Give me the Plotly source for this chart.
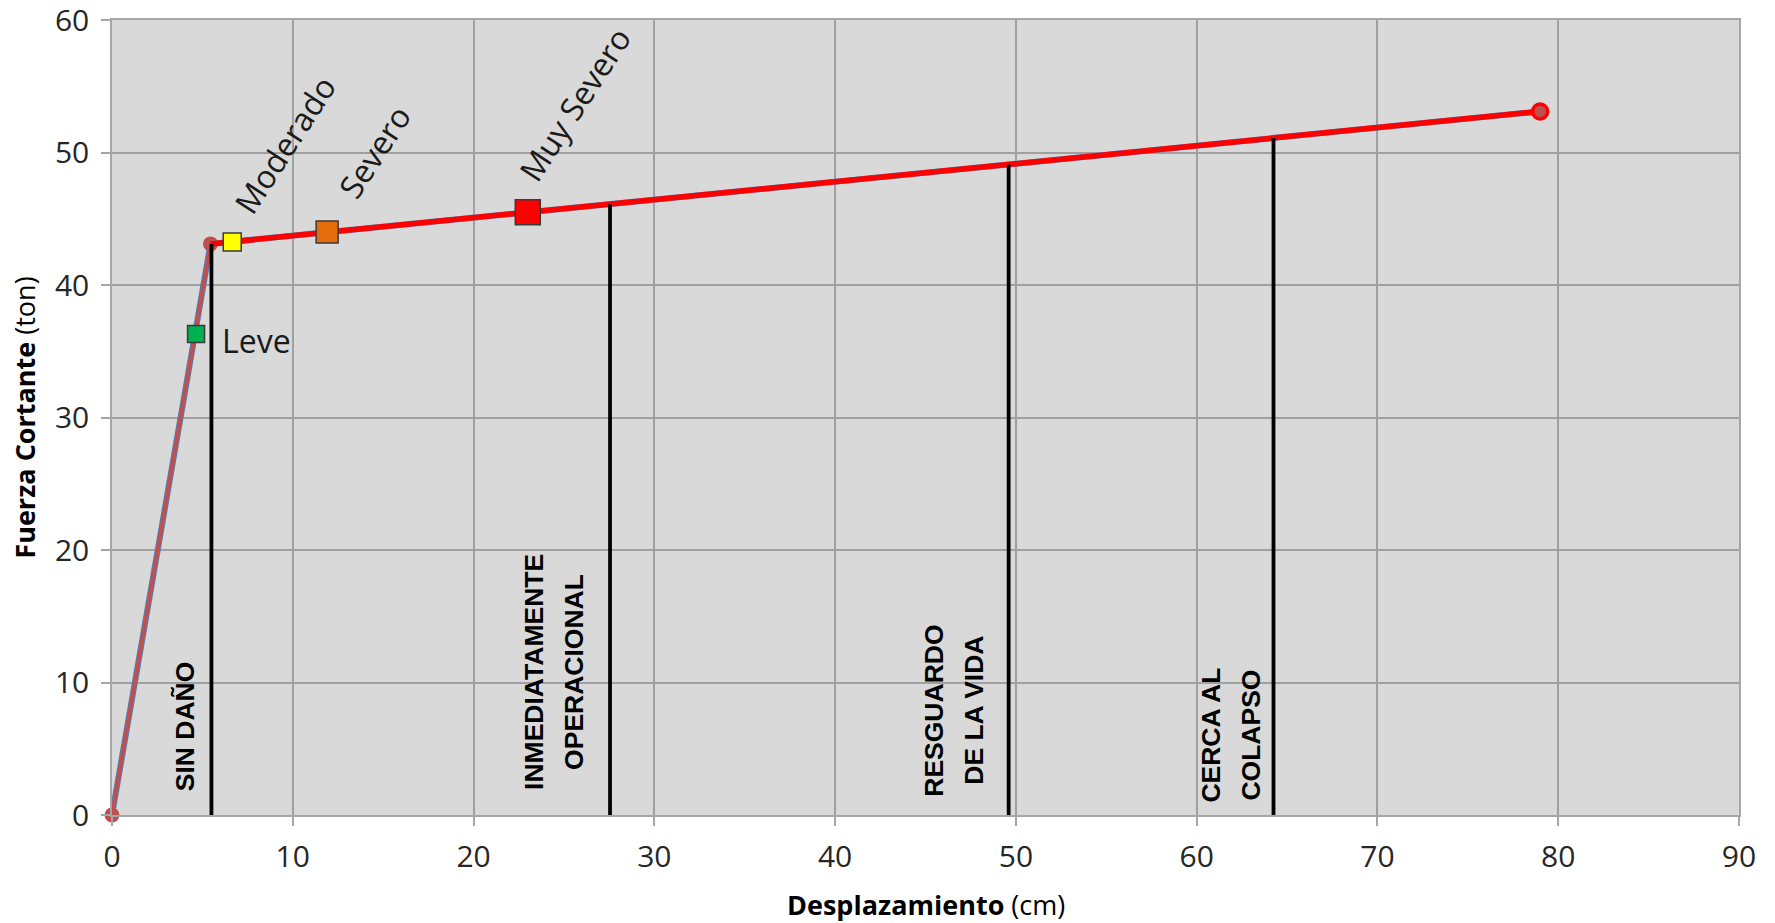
import plotly.graph_objects as go

# ---- data ----
curve_x = [0.0, 5.45, 79.0]          # bilinear capacity curve (cm)
curve_y = [0.0, 43.1, 53.1]          # (ton)
post_x = [5.45, 79.0]                # post-yield branch
post_y = [43.1, 53.1]

damage_names = ["Leve", "Moderado", "Severo", "Muy Severo"]
damage_x = [4.65, 6.65, 11.9, 23.0]
damage_y = [36.3, 43.25, 44.0, 45.5]
damage_colors = ["#00B050", "#FFFF00", "#E46C0A", "#FF0000"]

level_names = ["SIN DAÑO", "INMEDIATAMENTE<br>OPERACIONAL", "RESGUARDO<br>DE LA VIDA", "CERCA AL<br>COLAPSO"]
level_x = [5.5, 27.55, 49.6, 64.25]
level_top = [43.1, 46.1, 49.1, 51.1]

x_ticks = [0, 10, 20, 30, 40, 50, 60, 70, 80, 90]
y_ticks = [0, 10, 20, 30, 40, 50, 60]

# ---- styles / layout helpers ----
damage_sizes = [17, 18, 22, 25]
damage_label_pos = [(5.95, 35.8, "left", 0), (9.55, 50.6, "center", -57),
                    (14.5, 50.1, "center", -57), (25.6, 53.7, "center", -57)]
level_label_pos = [(4.04, 6.7), (24.45, 10.8), (46.6, 7.9), (61.85, 6.0)]

FONT = "Open Sans"
fig = go.Figure()

# thin blue pushover curve underneath
fig.add_trace(go.Scatter(x=curve_x, y=curve_y, mode="lines", cliponaxis=False,
                         line=dict(color="#4F81BD", width=6), hoverinfo="skip"))
# bilinear curve (brownish red) with circle markers
fig.add_trace(go.Scatter(x=curve_x, y=curve_y, mode="lines+markers", cliponaxis=False,
                         line=dict(color="#C0504D", width=4),
                         marker=dict(symbol="circle", size=15, color="#C0504D"),
                         hoverinfo="skip"))
# red post-yield branch
fig.add_trace(go.Scatter(x=post_x, y=post_y, mode="lines", cliponaxis=False,
                         line=dict(color="#FF0000", width=5.5), hoverinfo="skip"))
fig.add_trace(go.Scatter(x=post_x[-1:], y=post_y[-1:], mode="markers", cliponaxis=False,
                         marker=dict(symbol="circle", size=15, color="#C0504D",
                                     line=dict(color="#FF0000", width=3.5)),
                         hoverinfo="skip"))

# performance level vertical lines
for lx, lt in zip(level_x, level_top):
    fig.add_trace(go.Scatter(x=[lx, lx], y=[0, lt], mode="lines",
                             line=dict(color="#000000", width=3.8), hoverinfo="skip"))

# damage state markers
for i in range(len(damage_names)):
    fig.add_trace(go.Scatter(x=[damage_x[i]], y=[damage_y[i]], mode="markers",
                             marker=dict(symbol="square", size=damage_sizes[i],
                                         color=damage_colors[i],
                                         line=dict(color="#3A3A3A", width=1.5)),
                             hoverinfo="skip"))

annotations = []
for name, (ax, ay, anc, ang) in zip(damage_names, damage_label_pos):
    annotations.append(dict(x=ax, y=ay, xref="x", yref="y", text=name, showarrow=False,
                            textangle=ang, xanchor=anc, yanchor="middle",
                            font=dict(family=FONT, size=32, color="#1A1A1A")))
for name, (ax, ay) in zip(level_names, level_label_pos):
    lines = name.split("<br>")
    n = len(lines)
    for i, ln in enumerate(lines):
        annotations.append(dict(x=ax, y=ay, xref="x", yref="y", text="<b>" + ln + "</b>",
                                showarrow=False, textangle=-90, xanchor="center",
                                yanchor="middle", xshift=(i - (n - 1) / 2) * 40,
                                font=dict(family="Liberation Sans", size=26.5, color="#000000")))
annotations.append(dict(x=0.5, y=-0.113, xref="paper", yref="paper",
                        text="<b>Desplazamiento</b> (cm)", showarrow=False,
                        xanchor="center", yanchor="middle",
                        font=dict(family=FONT, size=27, color="#000000")))
annotations.append(dict(x=-0.054, y=0.5, xref="paper", yref="paper",
                        text="<b>Fuerza Cortante</b> (ton)", showarrow=False, textangle=-90,
                        xanchor="center", yanchor="middle",
                        font=dict(family=FONT, size=27, color="#000000")))

fig.update_layout(
    width=1775, height=923,
    margin=dict(l=112, r=36, t=20, b=108, autoexpand=False),
    paper_bgcolor="#FFFFFF", plot_bgcolor="#D9D9D9",
    showlegend=False,
    annotations=annotations,
    xaxis=dict(range=[0, 90], tickvals=x_ticks, ticktext=[str(v) for v in x_ticks],
               showgrid=True, gridcolor="#A0A0A0", gridwidth=1.5, automargin=False,
               zeroline=False, showline=True, linecolor="#A6A6A6", linewidth=1.5, mirror=True,
               ticks="outside", ticklen=9, tickcolor="#A6A6A6", tickwidth=1.5,
               ticklabelstandoff=5, ticklabeloverflow="allow",
               tickfont=dict(family=FONT, size=30, color="#262626")),
    yaxis=dict(range=[0, 60], tickvals=y_ticks, ticktext=[str(v) for v in y_ticks],
               showgrid=True, gridcolor="#A0A0A0", gridwidth=1.5, automargin=False,
               zeroline=False, showline=True, linecolor="#A6A6A6", linewidth=1.5, mirror=True,
               ticks="outside", ticklen=9, tickcolor="#A6A6A6", tickwidth=1.5,
               ticklabelstandoff=6, ticklabeloverflow="allow",
               tickfont=dict(family=FONT, size=30, color="#262626")),
)

# remove the browser's default 8px body margin so the figure fills the window exactly
fig.write_html("out.html", config={"displayModeBar": False},
               post_script="document.body.style.margin='0';document.body.style.overflow='hidden';")
